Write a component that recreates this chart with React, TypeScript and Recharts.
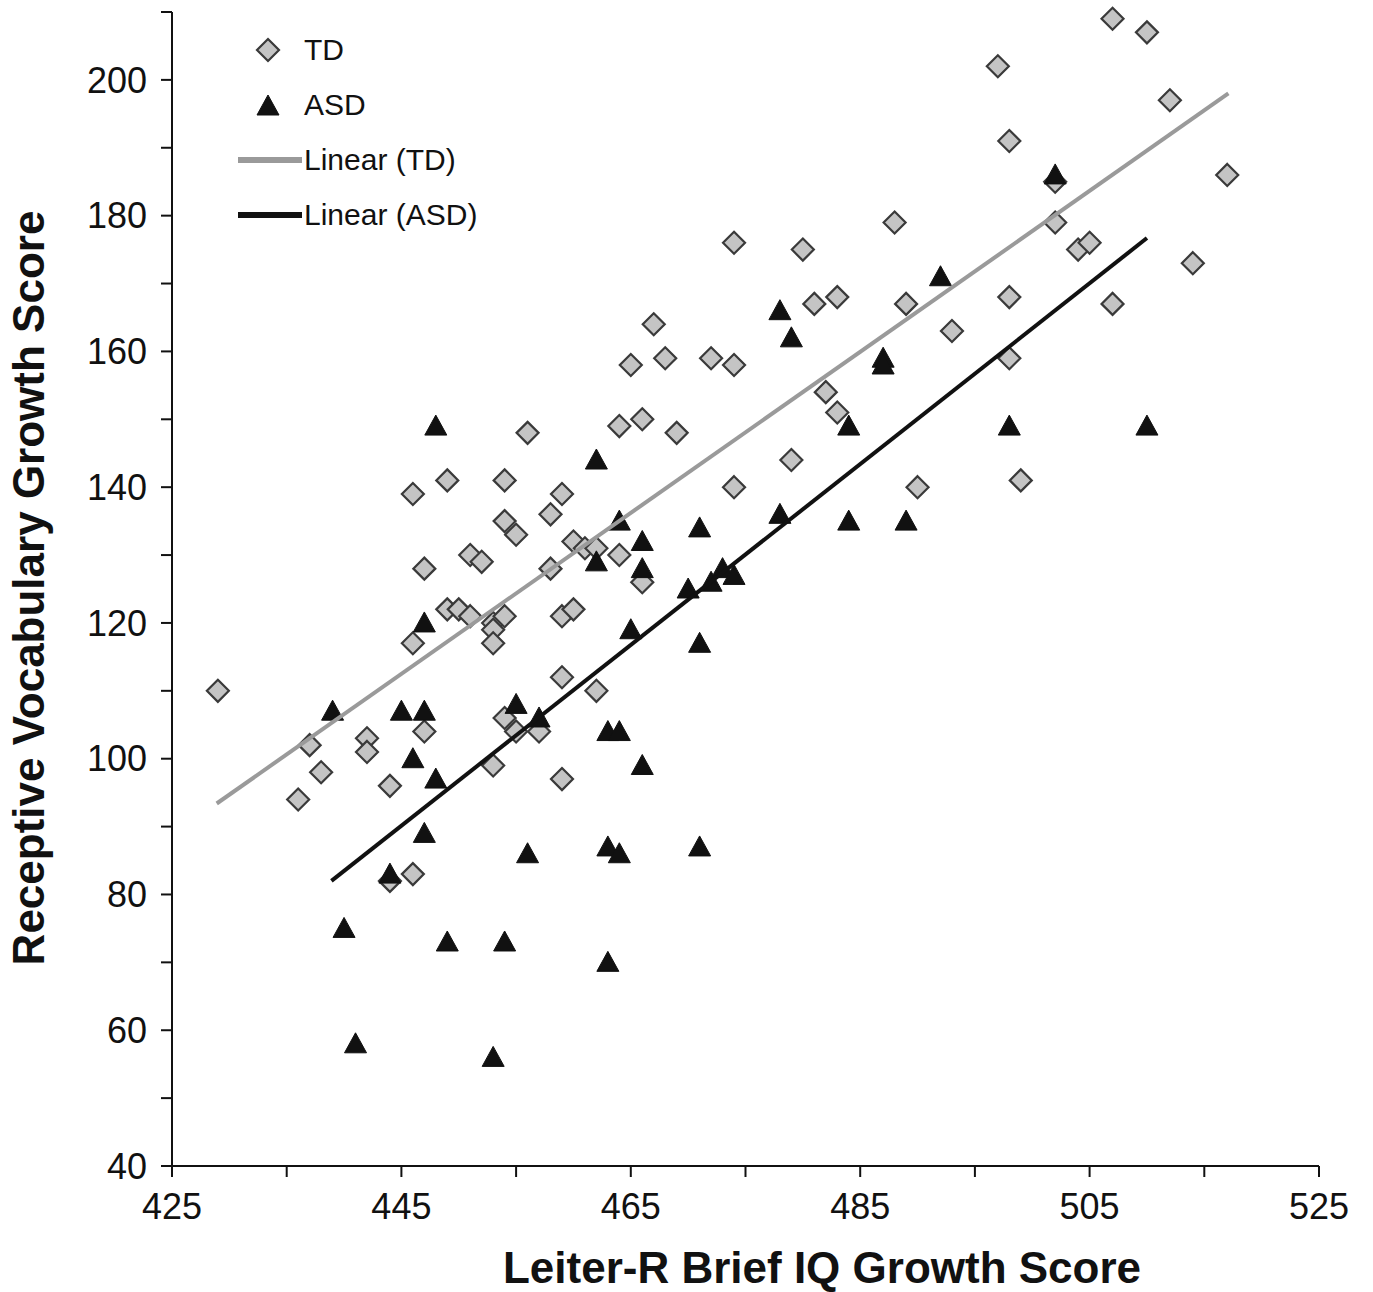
import React from "react";
import { ScatterChart, Scatter, XAxis, YAxis, Legend } from "recharts";

const FONT = '"Liberation Sans", Arial, Helvetica, sans-serif';

// TD group (diamonds)
const tdIQ = [
  429, 436, 437, 438, 442, 442, 444, 444, 446, 446, 446, 447, 447, 449, 449, 450,
  451, 451, 452, 453, 453, 453, 454, 454, 454, 455, 456, 454, 455, 453, 457, 458,
  458, 459, 459, 460, 460, 461, 462, 459, 459, 462, 464, 464, 465, 466, 466, 467,
  468, 469, 472, 474, 474, 474, 479, 480, 481, 482, 483, 483, 488, 489, 490, 493,
  497, 498, 498, 498, 499, 502, 502, 504, 505, 507, 507, 510, 512, 514, 517,
];
const tdVocab = [
  110, 94, 102, 98, 103, 101, 96, 82, 83, 117, 139, 128, 104, 141, 122, 122,
  130, 121, 129, 120, 119, 117, 121, 141, 135, 133, 148, 106, 104, 99, 104, 136,
  128, 139, 121, 122, 132, 131, 131, 112, 97, 110, 149, 130, 158, 150, 126, 164,
  159, 148, 159, 176, 158, 140, 144, 175, 167, 154, 168, 151, 179, 167, 140, 163,
  202, 191, 168, 159, 141, 185, 179, 175, 176, 209, 167, 207, 197, 173, 186,
];

// ASD group (triangles)
const asdIQ = [
  439, 440, 441, 444, 445, 446, 447, 447, 447, 448, 448, 449, 453, 454, 455, 456,
  457, 462, 462, 463, 463, 463, 464, 464, 464, 465, 466, 466, 466, 470, 471, 471,
  471, 472, 473, 474, 478, 478, 479, 484, 484, 487, 487, 489, 492, 498, 502, 510,
];
const asdVocab = [
  107, 75, 58, 83, 107, 100, 107, 89, 120, 149, 97, 73, 56, 73, 108, 86,
  106, 144, 129, 104, 87, 70, 104, 86, 135, 119, 132, 128, 99, 125, 134, 117,
  87, 126, 128, 127, 136, 166, 162, 149, 135, 159, 158, 135, 171, 149, 186, 149,
];

// linear trend end points
const tdTrendIQ = [428.9, 517.1];
const tdTrendVocab = [93.4, 198.0];
const asdTrendIQ = [438.9, 510.0];
const asdTrendVocab = [82.0, 176.7];

const xTicks = [425, 435, 445, 455, 465, 475, 485, 495, 505, 515, 525];
const xLabels = [425, 445, 465, 485, 505, 525];
const yTicks = [40, 50, 60, 70, 80, 90, 100, 110, 120, 130, 140, 150, 160, 170, 180, 190, 200, 210];
const yLabels = [40, 60, 80, 100, 120, 140, 160, 180, 200];

const xTitle = "Leiter-R Brief IQ Growth Score";
const yTitle = "Receptive Vocabulary Growth Score";

const zip = (xs: number[], ys: number[]) => xs.map((x, i) => ({ x, y: ys[i] }));

const tdPoints = zip(tdIQ, tdVocab);
const asdPoints = zip(asdIQ, asdVocab);
const tdTrend = zip(tdTrendIQ, tdTrendVocab);
const asdTrend = zip(asdTrendIQ, asdTrendVocab);

const Diamond = (p: any) => {
  const { cx, cy } = p;
  return (
    <polygon
      points={`${cx},${cy - 11} ${cx + 11},${cy} ${cx},${cy + 11} ${cx - 11},${cy}`}
      fill="#c4c4c4"
      stroke="#3a3a3a"
      strokeWidth={2.2}
    />
  );
};

const Triangle = (p: any) => {
  const { cx, cy } = p;
  return (
    <polygon
      points={`${cx},${cy - 11} ${cx + 11},${cy + 9} ${cx - 11},${cy + 9}`}
      fill="#111"
      stroke="#111"
      strokeWidth={1}
    />
  );
};

const NoShape = () => <g />;

const renderXTitle = () => (
  <text x={822} y={1283} textAnchor="middle" fontSize={44} fontWeight="bold" fontFamily={FONT} fill="#111">
    {xTitle}
  </text>
);

const renderYTitle = () => (
  <text
    x={44}
    y={588}
    transform="rotate(-90 44 588)"
    textAnchor="middle"
    fontSize={44}
    fontWeight="bold"
    fontFamily={FONT}
    fill="#111"
  >
    {yTitle}
  </text>
);

const legendRows = [
  { name: "TD", kind: "diamond" },
  { name: "ASD", kind: "triangle" },
  { name: "Linear (TD)", kind: "grayline" },
  { name: "Linear (ASD)", kind: "blackline" },
];

const LegendBox = () => (
  <div style={{ position: "relative", width: 300, height: 220, fontFamily: FONT }}>
    {legendRows.map((r, i) => (
      <div
        key={r.name}
        style={{ position: "absolute", left: 0, top: 10 + i * 55, height: 40, display: "flex", alignItems: "center" }}
      >
        <svg width={74} height={40}>
          {r.kind === "diamond" && <Diamond cx={38} cy={20} />}
          {r.kind === "triangle" && <Triangle cx={38} cy={21} />}
          {r.kind === "grayline" && <line x1={8} x2={72} y1={20} y2={20} stroke="#9a9a9a" strokeWidth={6} />}
          {r.kind === "blackline" && <line x1={8} x2={72} y1={20} y2={20} stroke="#111" strokeWidth={6} />}
        </svg>
        <span style={{ fontSize: 30, color: "#111", lineHeight: "40px" }}>{r.name}</span>
      </div>
    ))}
  </div>
);

export default function App() {
  return (
    <div style={{ position: "absolute", left: 0, top: 0, width: 1373, height: 1292, background: "#fff" }}>
      <ScatterChart width={1373} height={1292} margin={{ top: 12, right: 54, bottom: 0, left: 0 }}>
        <XAxis
          type="number"
          dataKey="x"
          domain={[425, 525]}
          ticks={xTicks}
          interval={0}
          tickFormatter={(v: number) => (xLabels.includes(v) ? String(v) : "")}
          tick={{ fill: "#111", fontSize: 36, fontFamily: FONT }}
          tickSize={11}
          tickMargin={16}
          axisLine={{ stroke: "#111", strokeWidth: 2 }}
          tickLine={{ stroke: "#111", strokeWidth: 2 }}
          height={126}
          label={renderXTitle}
        />
        <YAxis
          type="number"
          dataKey="y"
          domain={[40, 210]}
          ticks={yTicks}
          interval={0}
          tickFormatter={(v: number) => (yLabels.includes(v) ? String(v) : "")}
          tick={{ fill: "#111", fontSize: 36, fontFamily: FONT }}
          tickSize={11}
          tickMargin={14}
          axisLine={{ stroke: "#111", strokeWidth: 2 }}
          tickLine={{ stroke: "#111", strokeWidth: 2 }}
          width={172}
          label={renderYTitle}
        />
        <Legend
          layout="vertical"
          align="center"
          verticalAlign="middle"
          content={LegendBox}
          wrapperStyle={{ left: 230, top: 20, width: 300, height: 220 }}
        />
        <Scatter name="TD" data={tdPoints} shape={Diamond} isAnimationActive={false} />
        <Scatter name="ASD" data={asdPoints} shape={Triangle} isAnimationActive={false} />
        <Scatter
          name="Linear (TD)"
          data={tdTrend}
          line={{ stroke: "#9a9a9a", strokeWidth: 4 }}
          shape={NoShape}
          legendType="none"
          isAnimationActive={false}
        />
        <Scatter
          name="Linear (ASD)"
          data={asdTrend}
          line={{ stroke: "#111", strokeWidth: 4 }}
          shape={NoShape}
          legendType="none"
          isAnimationActive={false}
        />
      </ScatterChart>
    </div>
  );
}
